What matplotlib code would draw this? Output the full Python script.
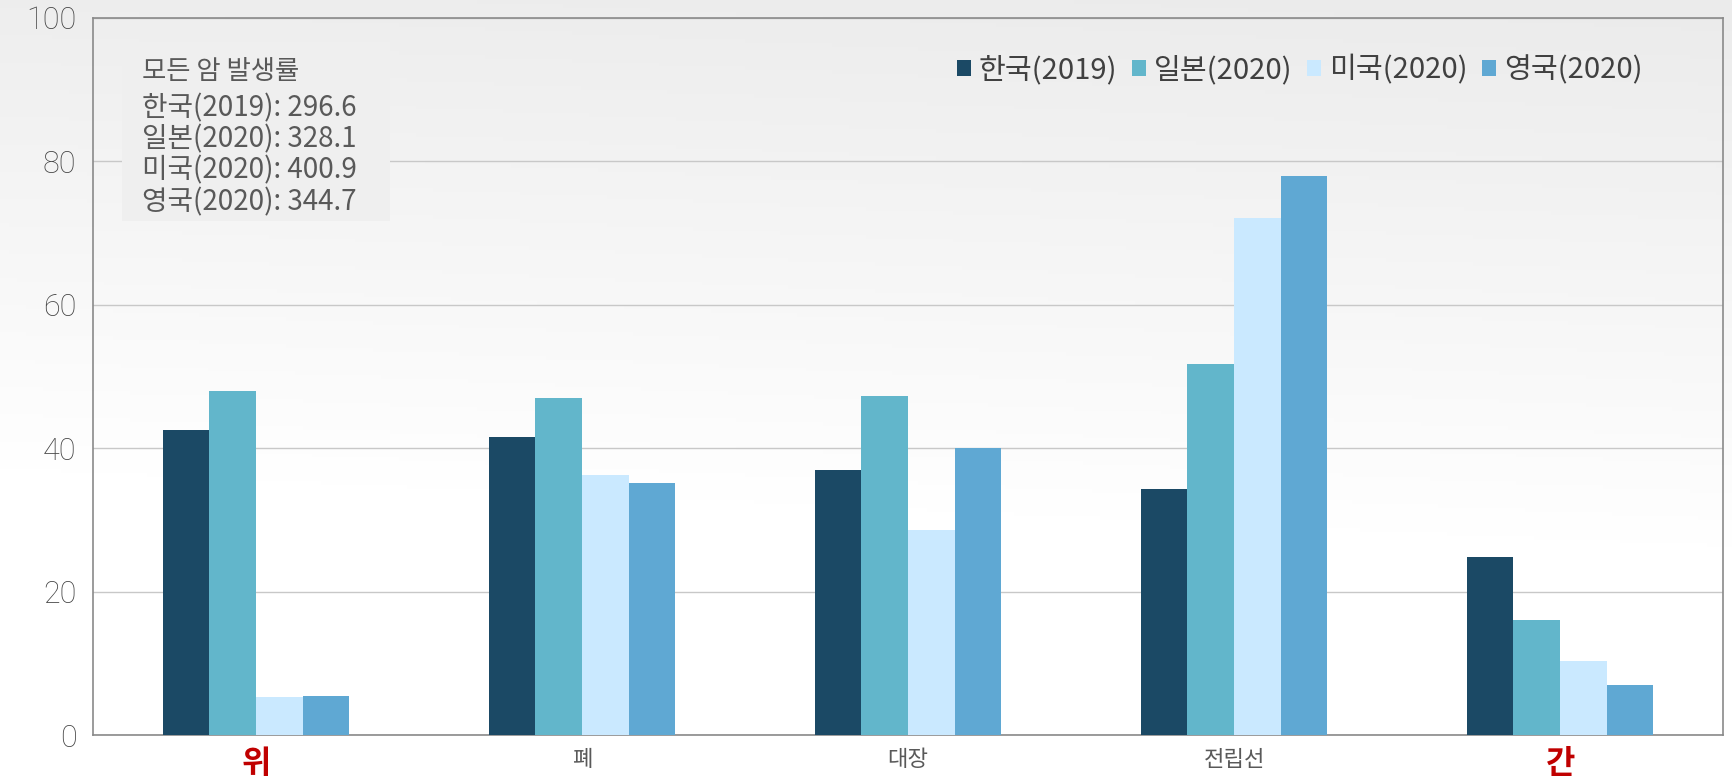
import numpy as np
import matplotlib.pyplot as plt
from matplotlib.patches import Rectangle

plt.rcParams['font.family'] = ['Noto Sans CJK KR', 'DejaVu Sans']

categories = ['위', '폐', '대장', '전립선', '간']
series_names = ['한국(2019)', '일본(2020)', '미국(2020)', '영국(2020)']
korea = [42.5, 41.6, 37.0, 34.3, 24.9]
japan = [48.0, 47.0, 47.3, 51.8, 16.1]
usa = [5.3, 36.3, 28.6, 72.1, 10.3]
uk = [5.4, 35.2, 40.0, 77.9, 7.0]
all_cancer = [296.6, 328.1, 400.9, 344.7]
highlight = ['위', '간']

colors = ['#1B4965', '#62B6CB', '#CAE9FF', '#5FA8D3']

fig = plt.figure(figsize=(17.33, 7.82), dpi=100)

# background gradient
bg = fig.add_axes([0, 0, 1, 1], zorder=-10)
yy, xx = np.mgrid[0:1:200j, 0:1:200j]
grad = 0.925 + 0.075 * np.clip(yy * 1.5 + 0.15 * (1 - xx) - 0.05, 0, 1)
bg.imshow(np.dstack([grad] * 3), extent=[0, 1, 0, 1], aspect='auto', origin='upper')
bg.axis('off')

ax = fig.add_axes([0.0537, 0.060, 0.9406, 0.917])
ax.patch.set_alpha(0)

x = np.arange(len(categories))
w = 0.143
for i, vals in enumerate([korea, japan, usa, uk]):
    ax.bar(x + (i - 1.5) * w, vals, width=w, color=colors[i], label=series_names[i], zorder=3)

ax.set_xlim(-0.5, len(categories) - 0.5)
ax.set_ylim(0, 100)
ax.set_yticks([0, 20, 40, 60, 80, 100])
ax.grid(axis='y', color='#c8c8c8', linewidth=1, zorder=0)
for s in ax.spines.values():
    s.set_color('#8a8a8a')
    s.set_linewidth(1.2)
ax.tick_params(axis='y', length=0, pad=12, labelsize=22, labelcolor='#444444')
ax.tick_params(axis='x', length=0, pad=9)
for lab in ax.get_yticklabels():
    lab.set_fontfamily(['Roboto', 'DejaVu Sans'])
    lab.set_fontweight('light')

ax.set_xticks(x)
ax.set_xticklabels(categories)
for lab in ax.get_xticklabels():
    if lab.get_text() in highlight:
        lab.set_color('#C00000')
        lab.set_fontsize(23)
        lab.set_fontweight('bold')
    else:
        lab.set_color('#595959')
        lab.set_fontsize(16)

leg = ax.legend(loc='center right', bbox_to_anchor=(0.967, 0.927), ncol=4, frameon=False,
                fontsize=21, handlelength=0.48, handleheight=0.48, handletextpad=0.28,
                columnspacing=0.5, labelcolor='#404040')

# all-cancer incidence box
ax.add_patch(Rectangle((0.018, 0.717), 0.164, 0.25, transform=ax.transAxes,
                       facecolor='#efefef', edgecolor='none', zorder=4))
ax.text(0.030, 0.926, '모든 암 발생률', transform=ax.transAxes, fontsize=19,
        color='#595959', fontweight='medium', va='center', zorder=5)
ys = [0.874, 0.831, 0.787, 0.743]
for name, val, yv in zip(series_names, all_cancer, ys):
    ax.text(0.030, yv, f'{name}: {val}', transform=ax.transAxes, fontsize=20,
            color='#595959', va='center', zorder=5)

fig.savefig('out.png', dpi=100)
